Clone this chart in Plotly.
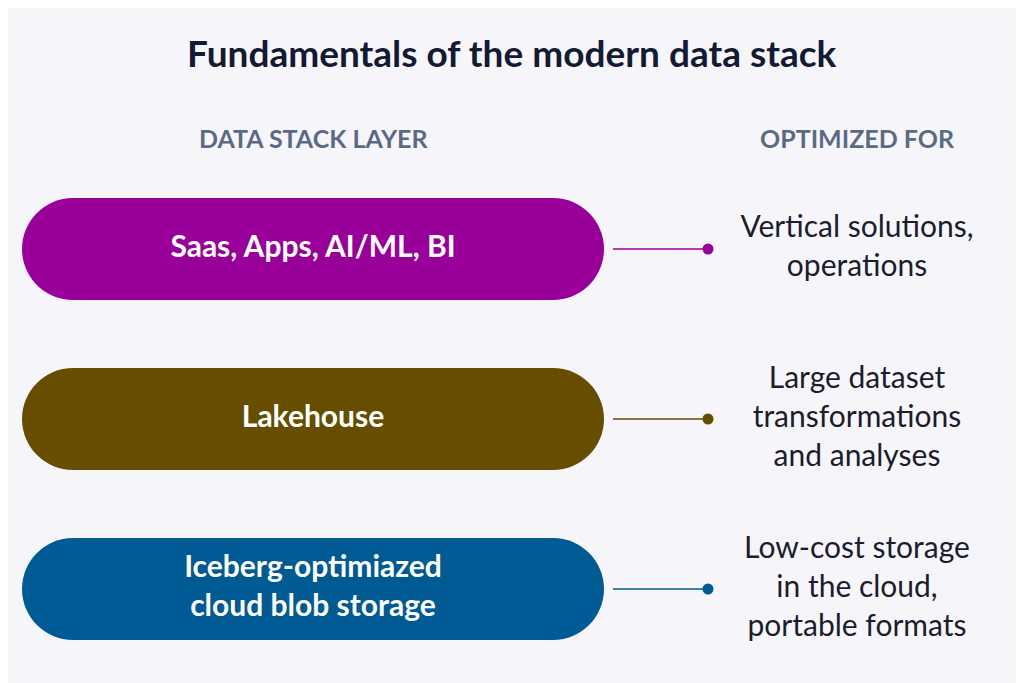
import plotly.graph_objects as go

title = "Fundamentals of the modern data stack"
col_headers = ["DATA STACK LAYER", "OPTIMIZED FOR"]
layers = ["Saas, Apps, AI/ML, BI", "Lakehouse", "Iceberg-optimiazed<br>cloud blob storage"]
optimized_for = ["Vertical solutions,<br>operations",
                 "Large dataset<br>transformations<br>and analyses",
                 "Low-cost storage<br>in the cloud,<br>portable formats"]
layer_colors = ["#990099", "#664D00", "#005A94"]

fig = go.Figure()

x0, x1, h = 22, 604, 102
k = 0.5523
centers = [249, 419, 589]
shapes = []
for i, cy in enumerate(centers):
    r = h / 2
    top, bot = cy - r, cy + r
    a, b = x0 + r, x1 - r
    path = (f"M {a},{top} L {b},{top} "
            f"C {b + k*r},{top} {x1},{cy - k*r} {x1},{cy} "
            f"C {x1},{cy + k*r} {b + k*r},{bot} {b},{bot} "
            f"L {a},{bot} "
            f"C {a - k*r},{bot} {x0},{cy + k*r} {x0},{cy} "
            f"C {x0},{cy - k*r} {a - k*r},{top} {a},{top} Z")
    shapes.append(dict(type="path", path=path, fillcolor=layer_colors[i],
                       line=dict(width=0), layer="below"))
    shapes.append(dict(type="line", x0=613, x1=708, y0=cy, y1=cy,
                       line=dict(color=layer_colors[i], width=1.5)))

# connector dots
fig.add_trace(go.Scatter(x=[708] * len(centers), y=centers, mode="markers",
                         marker=dict(size=11, color=layer_colors),
                         hoverinfo="skip", showlegend=False))
# pill labels
fig.add_trace(go.Scatter(x=[313] * len(layers), y=centers, mode="text", text=layers,
                         textfont=dict(family="Lato", size=30, color="white", weight="bold"),
                         hoverinfo="skip", showlegend=False))
# right column text
fig.add_trace(go.Scatter(x=[857] * len(optimized_for), y=centers, mode="text",
                         text=optimized_for,
                         textfont=dict(family="Lato", size=30, color="#1b1d2e"),
                         hoverinfo="skip", showlegend=False))

ann = [
    dict(x=512, y=52, text=f"<b>{title}</b>", showarrow=False,
         font=dict(family="Lato", size=37, color="#131a33")),
    dict(x=313, y=138, text=col_headers[0], showarrow=False,
         font=dict(family="Lato", size=25, color="#5b6a84", weight="bold")),
    dict(x=857, y=138, text=col_headers[1], showarrow=False,
         font=dict(family="Lato", size=25, color="#5b6a84", weight="bold")),
]

# page body has an 8px margin; shift ranges so content lands at reference pixels
fig.update_layout(
    width=1024, height=683,
    margin=dict(l=0, r=0, t=0, b=0),
    paper_bgcolor="#F6F6FA", plot_bgcolor="#F6F6FA",
    shapes=shapes, annotations=ann,
    xaxis=dict(range=[8, 1032], visible=False, fixedrange=True),
    yaxis=dict(range=[691, 8], visible=False, fixedrange=True),
    showlegend=False,
)

fig.write_html("out.html")
